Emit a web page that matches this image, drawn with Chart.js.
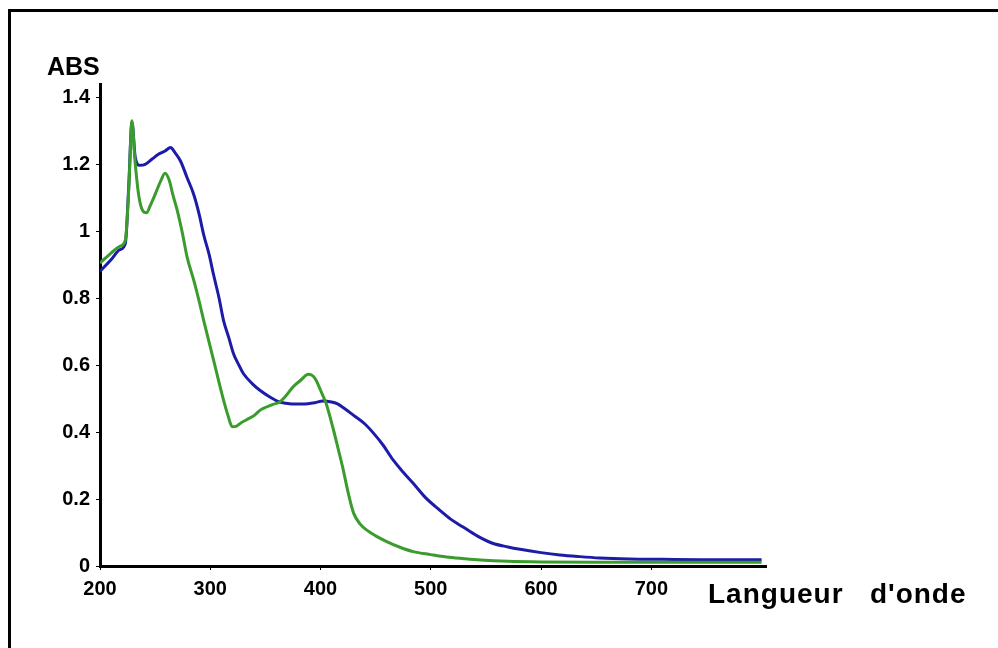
<!DOCTYPE html>
<html>
<head>
<meta charset="utf-8">
<script src="https://cdn.jsdelivr.net/npm/chart.js@4/dist/chart.umd.min.js"></script>
<style>
  html, body { margin: 0; padding: 0; background: #fff; }
  #wrap { width: 998px; height: 648px; position: relative; }
</style>
</head>
<body>
<div id="wrap"><canvas id="chart"></canvas></div>
<script>
// wavelength (nm) / absorbance
var blueWl = [200, 210, 218, 223, 226, 229, 232, 236, 241, 247, 253, 259, 264, 268, 273, 279, 285, 290, 294, 299,
    303, 308, 312, 317, 321, 326, 330, 338, 345, 354, 363, 372, 384, 395, 402, 410, 415, 422, 430, 440,
    448, 457, 466, 475, 484, 495, 508, 518, 529, 542, 556, 570, 581, 600, 617, 635, 653, 680, 710, 744, 770, 800];
var blueAbs = [0.88, 0.915, 0.945, 0.964, 1.13, 1.325, 1.22, 1.197, 1.20, 1.215, 1.23, 1.24, 1.25, 1.235, 1.21, 1.16, 1.11, 1.05, 0.99, 0.93,
    0.87, 0.80, 0.734, 0.68, 0.635, 0.60, 0.575, 0.545, 0.525, 0.505, 0.49, 0.485, 0.484, 0.488, 0.493, 0.49, 0.485, 0.47, 0.45, 0.425,
    0.397, 0.36, 0.316, 0.28, 0.247, 0.205, 0.167, 0.14, 0.117, 0.09, 0.068, 0.057, 0.05, 0.04, 0.033, 0.028, 0.024, 0.021, 0.02, 0.019, 0.019, 0.019];

var greenWl = [200, 210, 218, 223, 226, 229, 231.5, 235, 239, 242, 246, 250, 255, 259, 263, 266, 270, 275, 279, 285,
    290, 294, 303, 312, 316, 320, 324, 328, 333, 340, 345, 351, 357, 363, 369, 375, 382, 389, 393, 396,
    400, 405, 411, 416, 420, 425, 430, 436, 442, 450, 460, 472, 484, 500, 514, 530, 545, 570, 600, 650, 700, 750, 800];
var greenAbs = [0.905, 0.935, 0.955, 0.973, 1.12, 1.33, 1.22, 1.11, 1.06, 1.055, 1.08, 1.11, 1.15, 1.173, 1.15, 1.11, 1.063, 0.99, 0.923, 0.854,
    0.79, 0.734, 0.615, 0.496, 0.45, 0.416, 0.418, 0.428, 0.437, 0.45, 0.465, 0.475, 0.483, 0.49, 0.51, 0.535, 0.555, 0.573, 0.568, 0.555,
    0.525, 0.486, 0.416, 0.35, 0.296, 0.22, 0.158, 0.125, 0.107, 0.09, 0.073, 0.056, 0.043, 0.034, 0.027, 0.022, 0.018, 0.014, 0.012, 0.011, 0.011, 0.011, 0.011];

var xTicks = [200, 300, 400, 500, 600, 700];
var yTicks = [0, 0.2, 0.4, 0.6, 0.8, 1, 1.2, 1.4];
var yTitle = 'ABS';
var xTitle = 'Langueur   d\'onde';

var fontFamily = "'Liberation Sans', Arial, sans-serif";

function toPoints(xs, ys) {
    return xs.map(function(x, i) { return {x: x, y: ys[i]}; });
}

// frame + the two axis captions, drawn by hand like the scanned figure
var decorPlugin = {
    id: 'decor',
    afterDraw(chart) {
        var ctx = chart.ctx;
        ctx.save();
        ctx.fillStyle = '#000';
        ctx.fillRect(8, 9, 990, 3);
        ctx.fillRect(8, 9, 3, 639);
        ctx.textBaseline = 'alphabetic';
        ctx.textAlign = 'left';
        ctx.font = 'bold 25px ' + fontFamily;
        ctx.fillText(yTitle, 47, 75);
        ctx.font = 'bold 28px ' + fontFamily;
        ctx.letterSpacing = '1px';
        ctx.fillText(xTitle, 708, 603);
        ctx.restore();
    }
};

var ctx = document.getElementById('chart').getContext('2d');
new Chart(ctx, {
    type: 'line',
    data: {
        datasets: [
            {
                label: 'green',
                data: toPoints(greenWl, greenAbs),
                borderColor: '#3a9c2c',
                borderWidth: 3,
                pointRadius: 0,
                fill: false,
                cubicInterpolationMode: 'monotone'
            },
            {
                label: 'blue',
                data: toPoints(blueWl, blueAbs),
                borderColor: '#1c1ca8',
                borderWidth: 3,
                pointRadius: 0,
                fill: false,
                cubicInterpolationMode: 'monotone'
            }
        ]
    },
    options: {
        responsive: true,
        maintainAspectRatio: false,
        animation: false,
        layout: {
            padding: {left: 0, top: 84, right: 232, bottom: 0}
        },
        plugins: {
            legend: {display: false},
            tooltip: {enabled: false}
        },
        scales: {
            x: {
                type: 'linear',
                min: 200,
                max: 804,
                afterBuildTicks: function(scale) {
                    scale.ticks = xTicks.map(function(v) { return {value: v}; });
                },
                afterFit: function(scale) { scale.height = 82; },
                grid: {drawOnChartArea: false, color: '#000', tickLength: 4, lineWidth: 1},
                border: {color: '#000', width: 3},
                ticks: {
                    color: '#000',
                    padding: 7,
                    maxRotation: 0,
                    font: {family: fontFamily, size: 20, weight: 'bold'}
                }
            },
            y: {
                min: 0,
                max: 1.44,
                afterBuildTicks: function(scale) {
                    scale.ticks = yTicks.map(function(v) { return {value: v}; });
                },
                afterFit: function(scale) { scale.width = 100; },
                grid: {drawOnChartArea: false, color: '#000', tickLength: 4, lineWidth: 1},
                border: {color: '#000', width: 3},
                ticks: {
                    color: '#000',
                    padding: 6,
                    callback: function(v) { return String(v); },
                    font: {family: fontFamily, size: 20, weight: 'bold'}
                }
            }
        }
    },
    plugins: [decorPlugin]
});
</script>
</body>
</html>
